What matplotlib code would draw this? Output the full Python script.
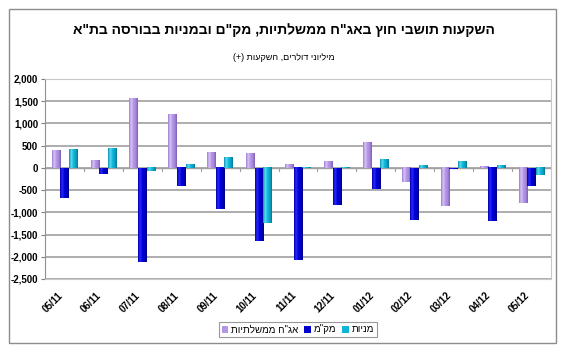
import numpy as np
import matplotlib
matplotlib.use('Agg')
import matplotlib.pyplot as plt
from matplotlib.patches import Rectangle
from matplotlib.colors import LinearSegmentedColormap

plt.rcParams['font.family'] = ['Liberation Sans', 'DejaVu Sans']

# months (x axis)
months = ['05/11', '06/11', '07/11', '08/11', '09/11', '10/11', '11/11',
          '12/11', '01/12', '02/12', '03/12', '04/12', '05/12']

# millions of dollars
govt_bonds = [390, 165, 1575, 1200, 350, 320, 75, 140, 570, -325, -860, 30, -795]
makam = [-670, -130, -2110, -415, -925, -1635, -2075, -825, -470, -1170, -20, -1205, -400]
stocks = [425, 450, -75, 80, 245, -1245, -10, -10, 200, 60, 140, 55, -165]

series_names = ['אג"ח ממשלתיות', 'מק"מ', 'מניות']
title = 'השקעות תושבי חוץ באג"ח ממשלתיות, מק"ם ובמניות בבורסה בת"א'
subtitle = 'מיליוני דולרים, השקעות (+)'

yticks = np.arange(-2500, 2001, 500)


def rtl(s):
    # matplotlib has no bidi support: flip to visual order
    mirror = {'(': ')', ')': '('}
    return ''.join(mirror.get(c, c) for c in s[::-1])


fig = plt.figure(figsize=(5.67, 3.55), dpi=100)
ax = fig.add_axes([45/567, 1-279/355, (551-45)/567, (279-79)/355])

# outer chart frame
fig.patches.append(Rectangle((9/567, 1-343/355), (556-9)/567, (343-9)/355,
                             transform=fig.transFigure, fill=False,
                             edgecolor='#8c8c8c', lw=1.0))

x = np.arange(len(months))
w = 0.22
colors = ['#b496e8', '#0000cc', '#10b4d6']
# cylinder-like shading, left to right
shades = [['#9c7cd0', '#d8c6f6', '#b496e8', '#a888dc', '#7e5eb0'],
          ['#0000a8', '#2a2aff', '#0000d8', '#0000c0', '#000080'],
          ['#0890b0', '#60daf4', '#10b8dc', '#0aa4c6', '#067890']]
grad = np.linspace(0, 1, 64).reshape(1, -1)
data = [govt_bonds, makam, stocks]
for i, vals in enumerate(data):
    bars = ax.bar(x + (i - 1) * w, vals, w, color=colors[i], lw=0,
                  label=rtl(series_names[i]), zorder=3)
    cmap = LinearSegmentedColormap.from_list('s%d' % i, shades[i])
    for b in bars:
        x0, y0 = b.get_x(), b.get_y()
        x1, y1 = x0 + b.get_width(), y0 + b.get_height()
        ax.imshow(grad, cmap=cmap, extent=(x0, x1, min(y0, y1), max(y0, y1)),
                  aspect='auto', zorder=3.5, interpolation='bilinear')

ax.set_xlim(-0.5, len(months) - 0.5)
ax.set_ylim(-2500, 2000)
ax.set_yticks(yticks)
ax.set_yticklabels(['{:,}'.format(v) for v in yticks], fontsize=7, fontweight='bold')
ax.yaxis.grid(True, color='#a0a0a0', lw=1.2, zorder=0)
ax.tick_params(axis='y', length=3, color='#808080', pad=2)

ax.set_xticks(x)
ax.set_xticklabels(months, rotation=45, ha='right', va='top', fontsize=7,
                   fontweight='bold')
ax.tick_params(axis='x', length=0, pad=8)

# zero line with category-boundary ticks
ax.axhline(0, color='#a0a0a0', lw=1.0, zorder=2)
for b in np.arange(0.5, len(months) - 0.5, 1):
    ax.plot([b, b], [0, -60], color='#a0a0a0', lw=0.8, zorder=2)

for side in ['top', 'right', 'bottom']:
    ax.spines[side].set_color('#c8c8c8')
ax.spines['left'].set_color('#909090')

fig.text(0.5, 1-30/355, rtl(title), ha='center', va='center',
         fontsize=10, fontweight='bold')
fig.text(0.5, 1-57/355, rtl(subtitle), ha='center', va='center', fontsize=6.5)

leg = fig.legend(loc='center', bbox_to_anchor=(298/567, 1-329.5/355), ncol=3,
                 fontsize=7, frameon=True, fancybox=False, edgecolor='#808080',
                 handlelength=0.7, handleheight=0.7, handletextpad=0.3,
                 columnspacing=0.6, borderpad=0.3)
leg.get_frame().set_linewidth(0.8)

fig.savefig('out.png', dpi=100)
